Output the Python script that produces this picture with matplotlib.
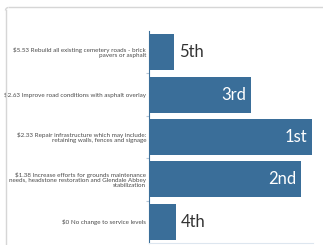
import matplotlib.pyplot as plt
from matplotlib.lines import Line2D
from matplotlib.patches import Arc

categories = [
    '$5.53 Rebuild all existing cemetery roads - brick\npavers or asphalt',
    '$2.63 Improve road conditions with asphalt overlay',
    '$2.33 Repair infrastructure which may include:\nretaining walls, fences and signage',
    '$1.38 Increase efforts for grounds maintenance\nneeds, headstone restoration and Glendale Abbey\nstabilization',
    '$0 No change to service levels',
]
scores = [25, 102, 163, 152, 27]
ranks = ['5th', '3rd', '1st', '2nd', '4th']

bar_color = '#3a6e99'

plt.rcParams['font.family'] = ['Lato', 'DejaVu Sans']

W, H = 323, 245
fig = plt.figure(figsize=(W / 100, H / 100), dpi=100)

# card border: top and left edges with a small rounded corner (pixel coords)
x0, y0, r = 5.5, H - 7.5, 3
border = '#d6d6d6'
fig.add_artist(Line2D([(x0 + r) / W, 1], [y0 / H, y0 / H], transform=fig.transFigure,
                      color=border, lw=1.0))
fig.add_artist(Line2D([x0 / W, x0 / W], [0, (y0 - r) / H], transform=fig.transFigure,
                      color=border, lw=1.0))
fig.add_artist(Arc(((x0 + r) / W, (y0 - r) / H), 2 * r / W, 2 * r / H,
                   theta1=90, theta2=180, transform=fig.transFigure,
                   color=border, lw=1.0))

ax = fig.add_axes([149 / W, 2 / H, 164 / W, 212 / H])

y = list(range(len(categories)))
ax.barh(y, scores, height=0.85, color=bar_color)
ax.set_ylim(len(categories) - 0.5, -0.5)
ax.set_xlim(0, 164)

for i, (val, lab) in enumerate(zip(scores, ranks)):
    if val > 60:
        ax.text(val - 5, i, lab, ha='right', va='center', color='white', fontsize=12)
    else:
        ax.text(val + 5, i, lab, ha='left', va='center', color='#333333', fontsize=12)

ax.set_yticks(y)
ax.set_yticklabels(categories, fontsize=4.5, color='#4a4a4a', linespacing=1.0)
ax.tick_params(axis='y', which='major', length=0, pad=2)
ax.set_yticks([i + 0.5 for i in range(len(categories) - 1)], minor=True)
ax.tick_params(axis='y', which='minor', length=2, color='#b8c8d8', width=0.8)
ax.set_xticks([])

for s in ['top', 'right']:
    ax.spines[s].set_visible(False)
ax.spines['left'].set_color('#3a6e99')
ax.spines['left'].set_linewidth(0.8)
ax.spines['bottom'].set_color('#dde6ef')
ax.spines['bottom'].set_linewidth(0.8)

fig.savefig('out.png', dpi=100)
